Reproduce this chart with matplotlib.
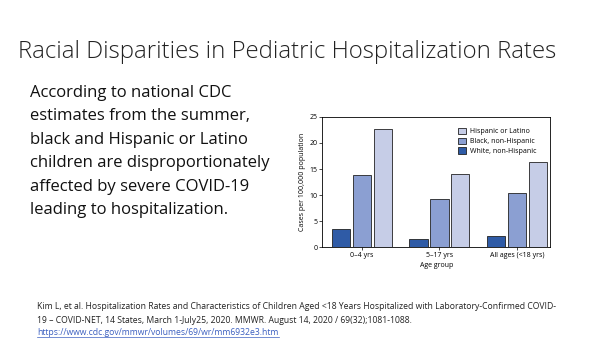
import matplotlib.pyplot as plt
import numpy as np

plt.rcParams['font.family'] = ['Open Sans', 'DejaVu Sans']

groups = ['0–4 yrs', '5–17 yrs', 'All ages (<18 yrs)']
white = [3.5, 1.5, 2.1]
black = [13.9, 9.2, 10.4]
hispanic = [22.7, 14.0, 16.4]
series_names = ['White, non-Hispanic', 'Black, non-Hispanic', 'Hispanic or Latino']
colors = ['#2f5ba6', '#8b9fd2', '#c6cde7']
yticks = [0, 5, 10, 15, 20, 25]

fig = plt.figure(figsize=(6, 3.38), dpi=100)

# slide title
fig.text(0.03, 0.845, 'Racial Disparities in Pediatric Hospitalization Rates',
         fontsize=17.3, fontweight='light', color='#222222', va='center')

body = ['According to national CDC', 'estimates from the summer,',
        'black and Hispanic or Latino', 'children are disproportionately',
        'affected by severe COVID-19', 'leading to hospitalization.']
for i, line in enumerate(body):
    fig.text(0.05, 0.725 - i * 0.0695, line, fontsize=12, color='#111111', va='center')

ref = ['Kim L, et al. Hospitalization Rates and Characteristics of Children Aged <18 Years Hospitalized with Laboratory-Confirmed COVID-',
       '19 – COVID-NET, 14 States, March 1-July25, 2020. MMWR. August 14, 2020 / 69(32);1081-1088.']
for i, line in enumerate(ref):
    fig.text(0.062, 0.092 - i * 0.039, line, fontsize=6.2, color='#222222', va='center')
link = fig.text(0.062, 0.016, 'https://www.cdc.gov/mmwr/volumes/69/wr/mm6932e3.htm',
                fontsize=6.2, color='#3b5fc0', va='center')

# underline the link, as wide as its text
fig.canvas.draw()
bb = link.get_window_extent().transformed(fig.transFigure.inverted())
fig.add_artist(plt.Line2D([bb.x0, bb.x1], [0.004, 0.004], color='#3b5fc0', lw=0.5))

# chart
ax = fig.add_axes([0.537, 0.269, 0.38, 0.385])
x = np.arange(len(groups))
w = 0.236
step = 0.27
for k, (vals, name, c) in enumerate(zip([white, black, hispanic], series_names, colors)):
    ax.bar(x + (k - 1) * step, vals, width=w, color=c, edgecolor='#222222', lw=0.6, label=name)

ax.set_xlim(-0.512, 2.43)
ax.set_ylim(0, 25)
ax.set_yticks(yticks)
ax.set_xticks(x)
ax.set_xticklabels(groups)
ax.tick_params(labelsize=5, length=2, width=0.5, pad=1.5)
ax.set_ylabel('Cases per 100,000 population', fontsize=5, labelpad=2)
ax.set_xlabel('Age group', fontsize=5, labelpad=2)
for s in ax.spines.values():
    s.set_linewidth(0.6)

h, l = ax.get_legend_handles_labels()
ax.legend(h[::-1], l[::-1], loc='upper right', bbox_to_anchor=(0.97, 0.97),
          fontsize=5, frameon=False,
          handlelength=1.1, handleheight=1.1, handletextpad=0.6, labelspacing=0.3,
          borderaxespad=0.6)

fig.savefig('out.png', dpi=100)
